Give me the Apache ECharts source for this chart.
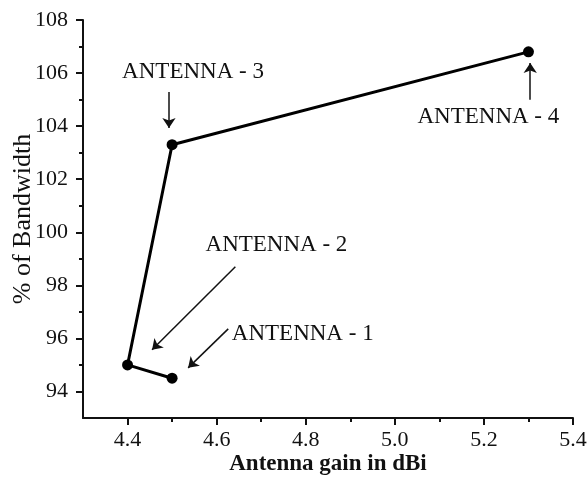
<!DOCTYPE html>
<html>
<head>
<meta charset="utf-8">
<script src="https://cdn.jsdelivr.net/npm/echarts@6/dist/echarts.min.js"></script>
<style>
html,body{margin:0;padding:0;background:#fff;}
#chart{width:587px;height:479px;}
</style>
</head>
<body>
<div id="chart"></div>
<script>
// Data
const gainDbi = [4.5, 4.4, 4.5, 5.3];
const bandwidthPct = [94.5, 95.0, 103.3, 106.8];

// Tick labels / tick positions
const xMajorTicks = [4.4, 4.6, 4.8, 5.0, 5.2, 5.4];
const xMinorTicks = [4.5, 4.7, 4.9, 5.1, 5.3];
const yMajorTicks = [94, 96, 98, 100, 102, 104, 106, 108];
const yMinorTicks = [95, 97, 99, 101, 103, 105, 107];

// Annotation texts and their anchor points (data coordinates)
const annoTexts = ['ANTENNA - 3', 'ANTENNA - 4', 'ANTENNA - 2', 'ANTENNA - 1'];
const annoTextPos = [[4.547, 106.04], [5.21, 104.35], [4.574, 99.53], [4.633, 96.17]];
const annoTextAlign = ['center', 'center', 'left', 'left'];
const arrowFrom = [[4.493, 105.29], [5.304, 104.99], [4.642, 98.70], [4.626, 96.36]];
const arrowTo = [[4.493, 103.93], [5.304, 106.38], [4.455, 95.57], [4.536, 94.89]];

const FONT = 'Liberation Serif';
const INK = '#111';

const chart = echarts.init(document.getElementById('chart'));

const baseX = {
  type: 'value', gridIndex: 0, position: 'bottom',
  min: 4.3, max: 5.4, interval: 0.1,
  splitLine: { show: false }
};
const baseY = {
  type: 'value', gridIndex: 0, position: 'left',
  min: 93, max: 108, interval: 1,
  splitLine: { show: false }
};

const option = {
  animation: false,
  backgroundColor: '#fff',
  grid: { left: 83, right: 14, top: 20, bottom: 61, containLabel: false, outerBoundsMode: 'none' },
  xAxis: [
    Object.assign({}, baseX, {
      name: 'Antenna gain in dBi',
      nameLocation: 'middle',
      nameGap: 35,
      nameMoveOverlap: false,
      nameTextStyle: { fontFamily: FONT, fontSize: 23, color: INK, fontWeight: 'bold' },
      axisLine: { show: true, lineStyle: { color: INK, width: 2 } },
      axisTick: { show: true, inside: false, length: 7, lineStyle: { color: INK, width: 2 }, customValues: xMajorTicks },
      axisLabel: {
        show: true, margin: 11, fontFamily: FONT, fontSize: 22, color: INK,
        customValues: xMajorTicks,
        formatter: v => Number(v).toFixed(1)
      }
    }),
    Object.assign({}, baseX, {
      axisLine: { show: false },
      axisTick: { show: true, inside: false, length: 4, lineStyle: { color: INK, width: 2 }, customValues: xMinorTicks },
      axisLabel: { show: false }
    })
  ],
  yAxis: [
    Object.assign({}, baseY, {
      name: '% of Bandwidth',
      nameLocation: 'middle',
      nameGap: 47,
      nameMoveOverlap: false,
      nameTextStyle: { fontFamily: FONT, fontSize: 26, color: INK },
      axisLine: { show: true, lineStyle: { color: INK, width: 2 } },
      axisTick: { show: true, inside: false, length: 7, lineStyle: { color: INK, width: 2 }, customValues: yMajorTicks },
      axisLabel: {
        show: true, margin: 15, fontFamily: FONT, fontSize: 22, color: INK,
        customValues: yMajorTicks
      }
    }),
    Object.assign({}, baseY, {
      axisLine: { show: false },
      axisTick: { show: true, inside: false, length: 4, lineStyle: { color: INK, width: 2 }, customValues: yMinorTicks },
      axisLabel: { show: false }
    })
  ],
  series: [{
    type: 'line',
    xAxisIndex: 0, yAxisIndex: 0,
    data: gainDbi.map((x, i) => [x, bandwidthPct[i]]),
    symbol: 'circle',
    symbolSize: 11,
    itemStyle: { color: '#000' },
    lineStyle: { color: '#000', width: 3 },
    markLine: {
      silent: true,
      symbol: ['none', 'arrow'],
      symbolSize: 10,
      label: { show: false },
      lineStyle: { color: INK, width: 1.5, type: 'solid' },
      data: arrowFrom.map((f, i) => [{ coord: f }, { coord: arrowTo[i] }])
    },
    markPoint: {
      silent: true,
      symbol: 'rect',
      symbolSize: 1,
      itemStyle: { color: 'rgba(0,0,0,0)' },
      data: annoTexts.map((t, i) => ({
        name: t,
        coord: annoTextPos[i],
        label: {
          show: true,
          position: annoTextAlign[i] === 'left' ? 'right' : 'inside',
          distance: 0,
          formatter: '{b}',
          fontFamily: FONT, fontSize: 23, color: INK
        }
      }))
    }
  }]
};
chart.setOption(option);
</script>
</body>
</html>
